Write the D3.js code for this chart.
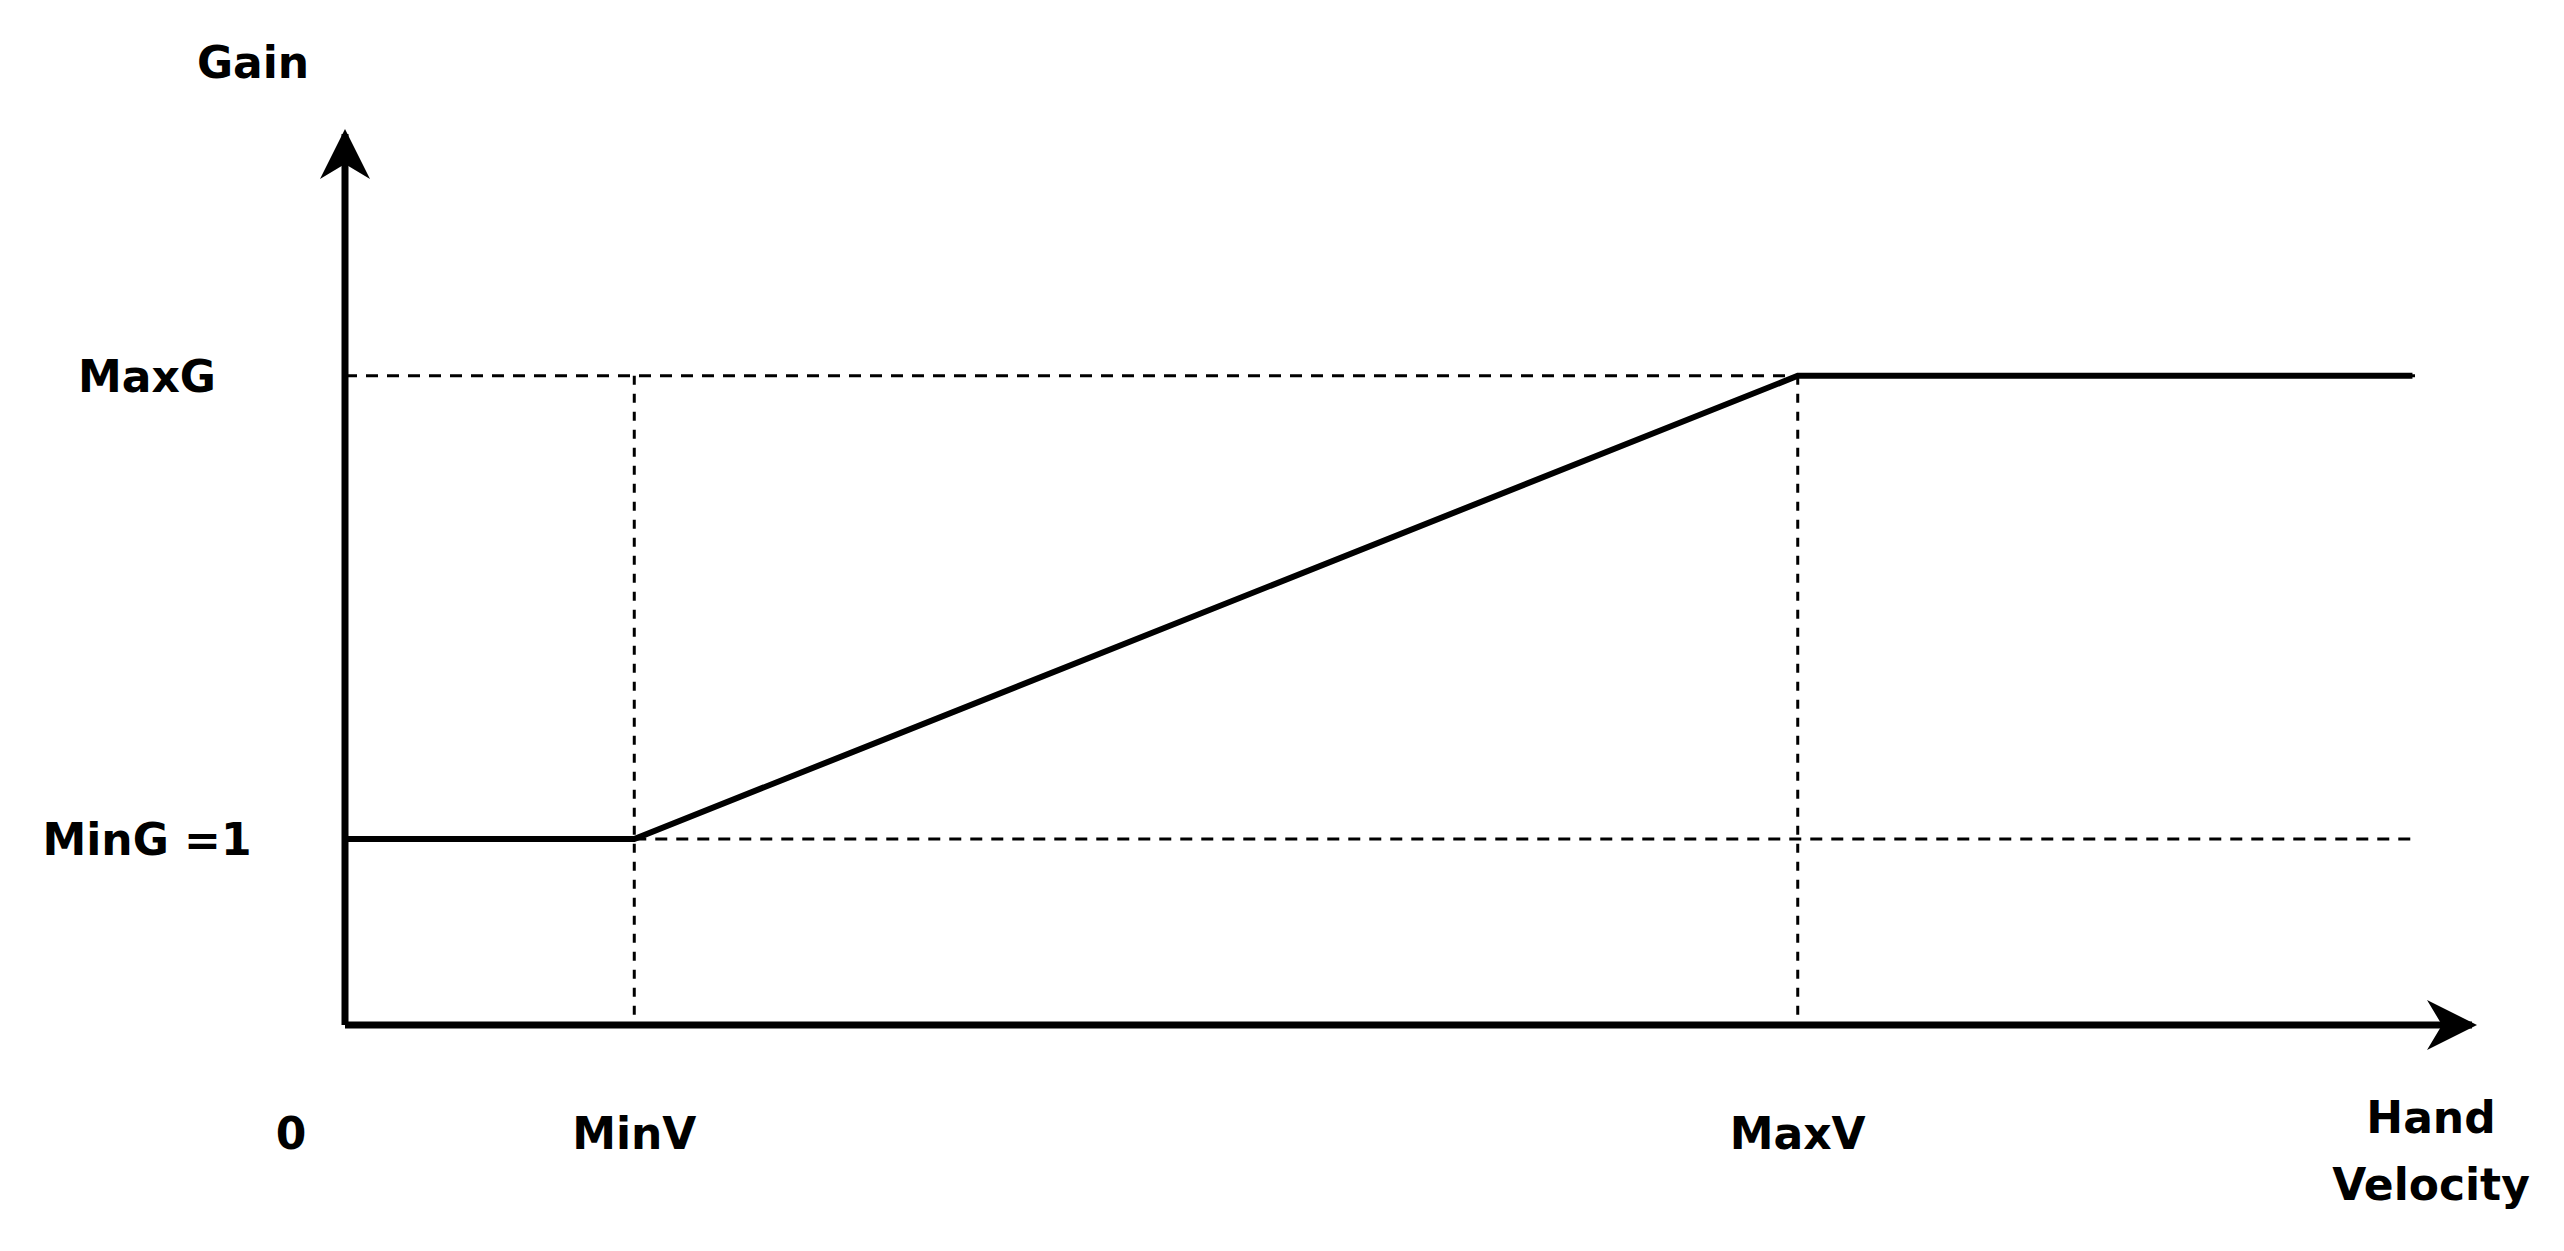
<!DOCTYPE html>
<html><head><meta charset="utf-8">
<script src="https://cdn.jsdelivr.net/npm/d3@7"></script>
<style>body{margin:0;background:#fff}svg text{font-family:"DejaVu Sans",Verdana,sans-serif;font-weight:bold;fill:#000}</style>
</head><body>
<script>
const velocity = [0, 13.6, 68.3, 97.2];
const gain = [1, 1, 3.49, 3.49];
const xTickLabels = [{v:0,t:"0"},{v:13.6,t:"MinV"},{v:68.3,t:"MaxV"}];
const yTickLabels = [{v:1,t:"MinG =1"},{v:3.49,t:"MaxG"}];

const W=2564,H=1251;
const svg=d3.select("body").append("svg").attr("width",W).attr("height",H);
const x=d3.scaleLinear().domain([0,100]).range([345,2472]);
const y=d3.scaleLinear().domain([0,4.79]).range([1025,134]);

const g=svg.append("g").attr("stroke","#000").attr("stroke-width",3).attr("stroke-dasharray","12,9");
g.append("line").attr("x1",x(0)).attr("x2",x(97.4)).attr("y1",y(3.49)).attr("y2",y(3.49));
g.append("line").attr("x1",x(13.6)).attr("x2",x(97.4)).attr("y1",y(1)).attr("y2",y(1));
[13.6,68.3].forEach(v=>g.append("line").attr("x1",x(v)).attr("x2",x(v)).attr("y1",y(3.49)).attr("y2",y(0)).attr("stroke-dasharray","9,9"));

svg.append("defs").append("marker").attr("id","ar").attr("viewBox","0 0 10 10").attr("refX",9).attr("refY",5)
 .attr("markerWidth",50).attr("markerHeight",50).attr("markerUnits","userSpaceOnUse").attr("orient","auto")
 .append("path").attr("d","M0,0 L10,5 L0,10 L3,5 Z").attr("fill","#000");
svg.append("line").attr("x1",x(0)).attr("y1",y(0)).attr("x2",x(100)).attr("y2",y(0)).attr("stroke","#000").attr("stroke-width",7).attr("marker-end","url(#ar)");
svg.append("line").attr("x1",x(0)).attr("y1",y(0)).attr("x2",x(0)).attr("y2",y(4.79)).attr("stroke","#000").attr("stroke-width",7).attr("marker-end","url(#ar)");

svg.append("path").datum(velocity.map((v,i)=>[v,gain[i]]))
 .attr("d",d3.line().x(d=>x(d[0])).y(d=>y(d[1]))).attr("fill","none").attr("stroke","#000").attr("stroke-width",6);

const fs=44;
xTickLabels.forEach(d=>svg.append("text").attr("x",d.v===0?291:x(d.v)).attr("y",1149).attr("text-anchor","middle").attr("font-size",fs).text(d.t));
yTickLabels.forEach(d=>svg.append("text").attr("x",147).attr("y",y(d.v)+16).attr("text-anchor","middle").attr("font-size",fs).text(d.t));
svg.append("text").attr("x",253).attr("y",78).attr("text-anchor","middle").attr("font-size",fs).text("Gain");
svg.append("text").attr("x",2431).attr("y",1133).attr("text-anchor","middle").attr("font-size",fs).text("Hand");
svg.append("text").attr("x",2431).attr("y",1200).attr("text-anchor","middle").attr("font-size",fs).text("Velocity");
</script>
</body></html>
